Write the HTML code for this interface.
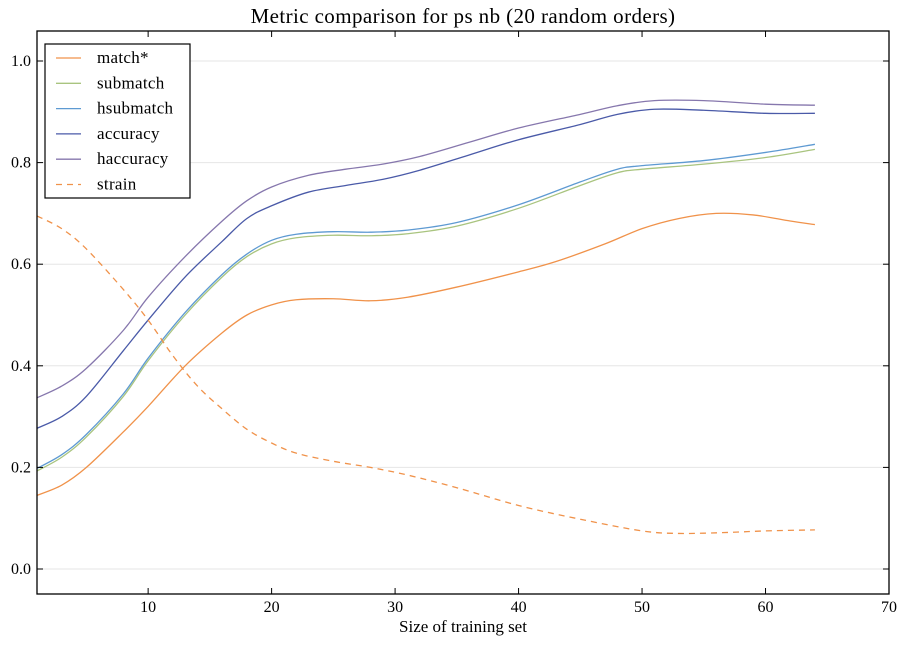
<!DOCTYPE html>
<html><head><meta charset="utf-8"><style>
body{margin:0;background:#fff;}
svg text{font-family:"Liberation Serif",serif;fill:#000;}
</style></head><body>
<svg id="s" width="906" height="644" xmlns="http://www.w3.org/2000/svg">
<rect width="906" height="644" fill="#fff"/>
<g id="grid"></g>
<g id="lines"></g>
<rect x="37" y="31" width="852" height="563" fill="none" stroke="#000" stroke-width="1.3"/>
<g id="ticks"></g>
<text x="463" y="23" font-size="21" text-anchor="middle" letter-spacing="0.4">Metric comparison for ps nb (20 random orders)</text>
<text x="463" y="632" font-size="17" text-anchor="middle">Size of training set</text>
<rect x="45" y="44" width="145" height="154" fill="#fff" stroke="#000" stroke-width="1.2"/>
<g id="leg"></g>
</svg>
<script>
const NS="http://www.w3.org/2000/svg";
const X=x=>37+(x-1)*852/69, Y=v=>569-508*v;
function el(p,t,a,txt){const e=document.createElementNS(NS,t);for(const k in a)e.setAttribute(k,a[k]);if(txt!==undefined)e.textContent=txt;document.getElementById(p).appendChild(e);return e;}
for(let i=0;i<=5;i++){const y=Y(i*0.2);el('grid','line',{x1:37,x2:889,y1:y,y2:y,stroke:'#e6e6e6','stroke-width':1});
el('ticks','line',{x1:37,x2:43,y1:y,y2:y,stroke:'#000'});el('ticks','line',{x1:883,x2:889,y1:y,y2:y,stroke:'#000'});
el('ticks','text',{x:31,y:y+5,'font-size':16,'text-anchor':'end'},(i*0.2).toFixed(1));}
for(let v=10;v<=70;v+=10){const x=X(v);el('ticks','line',{x1:x,x2:x,y1:594,y2:588,stroke:'#000'});el('ticks','line',{x1:x,x2:x,y1:31,y2:37,stroke:'#000'});
el('ticks','text',{x:x,y:612,'font-size':16,'text-anchor':'middle'},v);}
const D={
m:[[1,.145],[3,.165],[5,.2],[8,.27],[10,.32],[13,.4],[16,.465],[18,.5],[20,.52],[22,.53],[25,.532],[28,.528],[31,.535],[35,.555],[40,.585],[43,.605],[47,.64],[50,.67],[53,.69],[56,.7],[59,.697],[62,.685],[64,.678]],
s:[[1,.193],[3,.22],[5,.26],[8,.34],[10,.41],[13,.5],[16,.575],[18,.615],[20,.64],[22,.652],[25,.657],[28,.656],[31,.66],[35,.675],[40,.71],[45,.755],[48,.78],[50,.787],[55,.797],[60,.81],[64,.826]],
a:[[1,.277],[3,.3],[5,.34],[8,.43],[10,.49],[13,.575],[16,.645],[18,.69],[20,.715],[23,.742],[26,.755],[29,.767],[32,.785],[36,.815],[40,.845],[45,.875],[48,.895],[51,.905],[55,.903],[60,.897],[64,.897]],
h:[[1,.337],[3,.36],[5,.395],[8,.47],[10,.535],[13,.615],[16,.685],[18,.725],[20,.752],[23,.775],[26,.787],[29,.797],[32,.812],[36,.84],[40,.868],[45,.895],[48,.912],[51,.922],[55,.922],[60,.915],[64,.913]],
t:[[1,.695],[3,.67],[5,.63],[8,.55],[10,.49],[12,.42],[14,.36],[16,.315],[18,.275],[20,.248],[22,.228],[25,.212],[28,.2],[31,.185],[35,.16],[40,.125],[45,.098],[50,.075],[53,.07],[57,.072],[60,.075],[64,.077]]};
D.hs=D.s.map(([x,v],i)=>[x,v+(x<20?0.005:0.007)+(x>55?0.003:0)]);
function path(pts){const p=pts.map(([x,v])=>[X(x),Y(v)]);let d=`M${p[0][0]},${p[0][1]}`;
for(let i=0;i<p.length-1;i++){const p0=p[i-1]||p[i],p1=p[i],p2=p[i+1],p3=p[i+2]||p2;
d+=`C${p1[0]+(p2[0]-p0[0])/6},${p1[1]+(p2[1]-p0[1])/6} ${p2[0]-(p3[0]-p1[0])/6},${p2[1]-(p3[1]-p1[1])/6} ${p2[0]},${p2[1]}`;}return d;}
const S=[['m','#f0924a','match*'],['s','#a9c47f','submatch'],['hs','#5e9ad2','hsubmatch'],['a','#4a5aa8','accuracy'],['h','#8677ad','haccuracy'],['t','#f0924a','strain',1]];
S.forEach(([k,c,n,da],i)=>{el('lines','path',{d:path(D[k]),fill:'none',stroke:c,'stroke-width':1.3,'stroke-dasharray':da?'6,5':'none'});
const y=58+i*25.3;el('leg','line',{x1:56,x2:81,y1:y,y2:y,stroke:c,'stroke-width':1.3,'stroke-dasharray':da?'6,5':'none'});
el('leg','text',{x:97,y:y+5,'font-size':17,'letter-spacing':0.3},n);});
</script>
</body></html>
